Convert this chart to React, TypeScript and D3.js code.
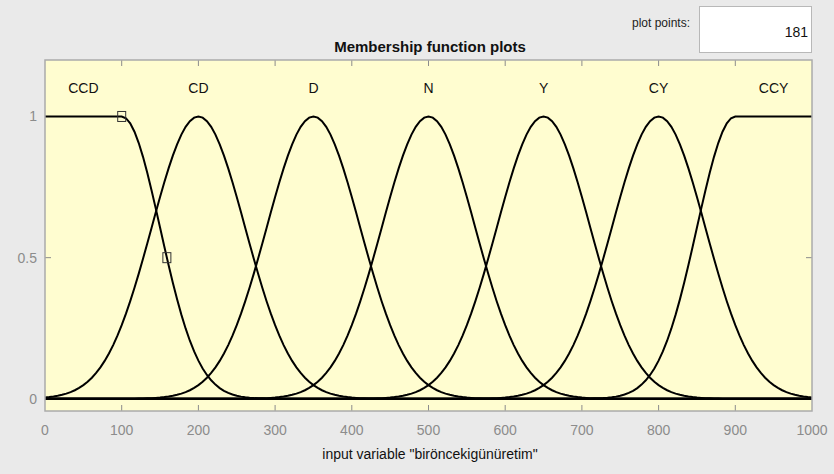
import React from "react";
import * as d3 from "d3";

// Membership functions of the input variable
const mfNames = ["CCD", "CD", "D", "N", "Y", "CY", "CCY"];
const mfCenters = [100, 200, 350, 500, 650, 800, 900];
const mfSigmas = [50, 61, 61, 61, 61, 61, 50];
// "left" = flat 1 below center, "right" = flat 1 above center, "gauss" = plain gaussian
const mfKinds = ["left", "gauss", "gauss", "gauss", "gauss", "gauss", "right"];
// x position of each function's name (middle of its plateau / peak)
const mfLabelX = [50, 200, 350, 500, 650, 800, 950];

// Handles of the selected function (CCD)
const handleX = [100, 158.9];
const handleY = [1, 0.5];

const xTicks = [0, 100, 200, 300, 400, 500, 600, 700, 800, 900, 1000];
const yTicks = [0, 0.5, 1];
const plotPoints = 181;

const W = 834;
const H = 474;
const box = { left: 45, right: 812, top: 60, bottom: 411 };

function membership(kind: string, c: number, s: number, x: number) {
  const g = Math.exp(-((x - c) ** 2) / (2 * s * s));
  if (kind === "left") return x <= c ? 1 : g;
  if (kind === "right") return x >= c ? 1 : g;
  return g;
}

export default function App() {
  const x = d3.scaleLinear().domain([0, 1000]).range([box.left, box.right]);
  const y = d3.scaleLinear().domain([-0.043, 1.2]).range([box.bottom, box.top]);
  const xs = d3.range(plotPoints).map((i) => (i * 1000) / (plotPoints - 1));
  const line = d3
    .line<number[]>()
    .x((d) => x(d[0]))
    .y((d) => y(d[1]));

  const font = "'Liberation Sans', Arial, Helvetica, sans-serif";
  const gray = "#8c8c8c";

  return (
    <svg
      width={W}
      height={H}
      style={{ position: "absolute", left: 0, top: 0, background: "#eaeaea" }}
      fontFamily={font}
    >
      <rect x={0} y={0} width={W} height={H} fill="#eaeaea" />

      {/* plot points box */}
      <text x={690} y={27} fontSize={12} textAnchor="end" fill="#222">
        plot points:
      </text>
      <rect x={699.5} y={6.5} width={112} height={46} fill="#ffffff" stroke="#b8b8b8" />
      <text x={808} y={36.5} fontSize={14} textAnchor="end" fill="#111">
        {plotPoints}
      </text>

      {/* title */}
      <text x={430} y={52} fontSize={15} fontWeight="bold" textAnchor="middle" fill="#111">
        Membership function plots
      </text>

      {/* axes area */}
      <rect
        x={box.left}
        y={box.top}
        width={box.right - box.left}
        height={box.bottom - box.top}
        fill="#fffdd0"
      />

      {/* ticks */}
      {xTicks.slice(1, -1).map((t) => (
        <g key={"xt" + t} stroke={gray} strokeWidth={1}>
          <line x1={x(t)} x2={x(t)} y1={box.bottom} y2={box.bottom - 6} />
          <line x1={x(t)} x2={x(t)} y1={box.top} y2={box.top + 6} />
        </g>
      ))}
      {yTicks.map((t) => (
        <g key={"yt" + t} stroke={gray} strokeWidth={1}>
          <line x1={box.left} x2={box.left + 6} y1={y(t)} y2={y(t)} />
          <line x1={box.right} x2={box.right - 6} y1={y(t)} y2={y(t)} />
        </g>
      ))}

      {/* membership curves */}
      {mfNames.map((name, i) => (
        <path
          key={name}
          d={line(xs.map((v) => [v, membership(mfKinds[i], mfCenters[i], mfSigmas[i], v)])) || ""}
          fill="none"
          stroke="#000"
          strokeWidth={2}
        />
      ))}

      {/* handles */}
      {handleX.map((hx, i) => (
        <rect
          key={"h" + i}
          x={x(hx) - 4}
          y={y(handleY[i]) - 5}
          width={8}
          height={10}
          fill="none"
          stroke="#333"
          strokeWidth={1}
        />
      ))}

      {/* function names */}
      {mfNames.map((name, i) => (
        <text key={"lbl" + name} x={x(mfLabelX[i])} y={y(1.1) + 5} fontSize={14} textAnchor="middle" fill="#111">
          {name}
        </text>
      ))}

      {/* frame */}
      <rect
        x={box.left}
        y={box.top}
        width={box.right - box.left}
        height={box.bottom - box.top}
        fill="none"
        stroke="#ababab"
        strokeWidth={1.5}
      />

      {/* tick labels */}
      {xTicks.map((t) => (
        <text key={"xl" + t} x={x(t)} y={435} fontSize={14} textAnchor="middle" fill={gray}>
          {t}
        </text>
      ))}
      {yTicks.map((t) => (
        <text key={"yl" + t} x={37} y={y(t) + 5} fontSize={14} textAnchor="end" fill={gray}>
          {t}
        </text>
      ))}

      {/* axis label */}
      <text x={430} y={459} fontSize={14} textAnchor="middle" fill="#111">
        input variable "biröncekigünüretim"
      </text>
    </svg>
  );
}
